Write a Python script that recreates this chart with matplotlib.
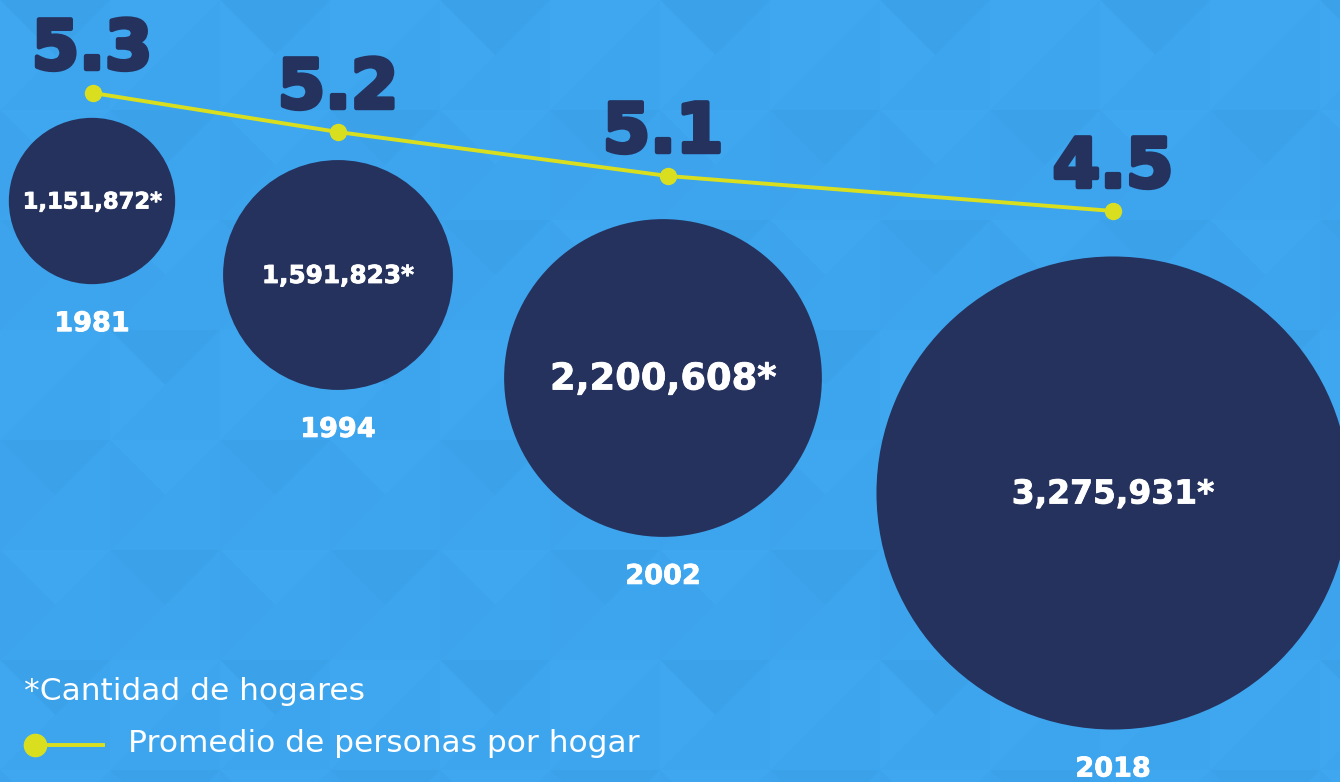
import matplotlib
matplotlib.use("Agg")
import matplotlib.pyplot as plt
import matplotlib.patheffects as pe
from matplotlib.patches import Circle, Polygon

# ---- data ----
years = ["1981", "1994", "2002", "2018"]
households = [1151872, 1591823, 2200608, 3275931]
household_labels = ["1,151,872*", "1,591,823*", "2,200,608*", "3,275,931*"]
avg_persons = [5.3, 5.2, 5.1, 4.5]
avg_labels = ["5.3", "5.2", "5.1", "4.5"]

# ---- layout (pixel positions) ----
cx = [92, 338, 663, 1113]
cy = [201, 275, 378, 493]
marker_x = [93, 338, 668, 1113]
marker_y = [93, 132, 176, 211]
radius_scale = 7.22e-5
label_sizes = [16.3, 17.8, 26.5, 23.7]

BG = "#3DA5EE"
NAVY = "#25325E"
YELLOW = "#D9DF1F"

plt.rcParams['font.family'] = ["DejaVu Sans"]

fig = plt.figure(figsize=(13.4, 7.82), dpi=100)
fig.patch.set_facecolor(BG)
ax = fig.add_axes([0, 0, 1, 1])
ax.set_facecolor(BG)
ax.set_xlim(0, 1340)
ax.set_ylim(782, 0)
ax.set_aspect("equal")
ax.axis("off")

# subtle background triangles
tile = 110
for i in range(-1, 14):
    for j in range(-1, 8):
        x0, y0 = i * tile, j * tile
        c1 = "#3BA2EA" if (i + j) % 2 == 0 else "#3EA7F0"
        c2 = "#3EA7F0" if (i * 3 + j) % 3 == 0 else "#3CA3EC"
        ax.add_patch(Polygon([(x0, y0), (x0 + tile, y0), (x0 + tile / 2, y0 + tile / 2)],
                             closed=True, facecolor=c1, edgecolor="none", zorder=0))
        ax.add_patch(Polygon([(x0, y0), (x0, y0 + tile), (x0 + tile / 2, y0 + tile / 2)],
                             closed=True, facecolor=c2, edgecolor="none", zorder=0))

white_bold = [pe.withStroke(linewidth=0.6, foreground="white")]
navy_heavy = [pe.withStroke(linewidth=3.2, foreground=NAVY)]

# circles
for x, y, v, lab, fs, yr in zip(cx, cy, households, household_labels, label_sizes, years):
    r = v * radius_scale
    ax.add_patch(Circle((x, y), r, facecolor=NAVY, edgecolor="none", zorder=2))
    ax.text(x, y + 1, lab, color="white", fontsize=fs, fontweight="bold",
            ha="center", va="center", zorder=3, path_effects=white_bold)
    ax.text(x, y + r + 47, yr, color="white", fontsize=19.5, fontweight="bold",
            ha="center", va="baseline", zorder=3, path_effects=white_bold)

# line
ax.plot(marker_x, marker_y, color=YELLOW, lw=2.8, zorder=4, solid_capstyle="round")
ax.plot(marker_x, marker_y, "o", color=YELLOW, ms=11.5, zorder=5)
for x, y, lab in zip(cx, marker_y, avg_labels):
    ax.text(x, y - 24, lab, color=NAVY, fontsize=49, fontweight="bold",
            ha="center", va="baseline", zorder=5, path_effects=navy_heavy)

# legend
ax.text(24, 700, "*Cantidad de hogares", color="white", fontsize=22.5,
        ha="left", va="baseline")
ax.plot([35, 103], [745, 745], color=YELLOW, lw=2.8, zorder=4)
ax.plot([35], [745], "o", color=YELLOW, ms=16, zorder=5)
ax.text(128, 752, "Promedio de personas por hogar", color="white", fontsize=22.5,
        ha="left", va="baseline")

fig.savefig("out.png", dpi=100, facecolor=BG)
